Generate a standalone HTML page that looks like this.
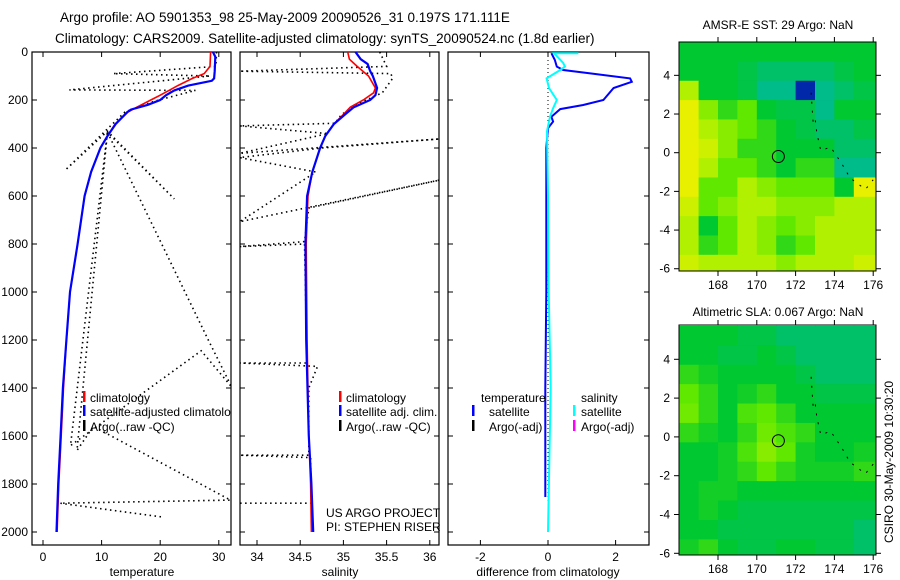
<!DOCTYPE html>
<html><head><meta charset="utf-8"><style>
body{margin:0;background:#fff;}
svg{display:block;font-family:"Liberation Sans",sans-serif;}
</style></head><body>
<svg id="fig" width="900" height="580" viewBox="0 0 900 580" xmlns="http://www.w3.org/2000/svg">
<rect width="900" height="580" fill="#fff"/>
<text x="60" y="22" font-size="13.5">Argo profile: AO 5901353_98 25-May-2009 20090526_31 0.197S 171.111E</text>
<text x="55" y="43" font-size="13.5">Climatology: CARS2009. Satellite-adjusted climatology: synTS_20090524.nc (1.8d earlier)</text>
<text x="778" y="29" font-size="12" text-anchor="middle">AMSR-E SST: 29 Argo: NaN</text>
<text x="778" y="316" font-size="12" text-anchor="middle">Altimetric SLA: 0.067 Argo: NaN</text>
<text transform="translate(893,462) rotate(-90)" font-size="12" text-anchor="middle">CSIRO 30-May-2009 10:30:20</text>
<g id="plots"></g>
</svg>
<script>
// ---------- data ----------
const depthTicks=[0,200,400,600,800,1000,1200,1400,1600,1800,2000];
const tempTicks=[0,10,20,30];
const salTicks=[34,34.5,35,35.5,36];
const salTickLabels=["34","34.5","35","35.5","36"];
const diffTicks=[-2,0,2];
const latTicks=[4,2,0,-2,-4,-6];
const lonTicks=[168,170,172,174,176];

const tClimDepth=[0,60,90,110,140,160,180,200,230,250,300,350,400,500,600,800,1000,1200,1400,1600,1800,2000];
const tClimVal=[28.6,28.5,27.5,25.5,23,21.5,20,18.4,16,14.5,12.3,11,9.8,8.2,7.1,5.9,4.6,4.0,3.5,3.1,2.7,2.4];
const tSatDepth=[0,20,80,110,120,140,160,180,200,220,240,250,300,350,400,500,600,800,1000,1200,1400,1600,1800,2000];
const tSatVal=[29.0,29.4,29.3,29.2,28.8,24.8,22.4,21,20,17.9,15,14.4,12.4,11,9.8,8.2,7.1,5.9,4.6,4.0,3.4,3.0,2.6,2.3];
const tArgoDepth=[0,60,90,100,158,160,205,250,320,492,330,612,335,1200,1396,1245,1640,330,1660,1560,1867,1880,1937];
const tArgoVal=[29.6,29.5,12,28.5,4.5,26,19,14,11,3.8,11,22.4,11,28.2,32.2,27,4.7,11,5.8,8.6,32,2.9,20.2];

const sClimDepth=[0,30,60,100,150,170,200,230,260,300,350,400,500,600,800,1200,1600,1800,2000];
const sClimVal=[35.05,35.07,35.16,35.29,35.37,35.35,35.23,35.08,35.0,34.89,34.79,34.73,34.64,34.59,34.57,34.58,34.6,34.62,34.63];
const sSatDepth=[0,30,50,80,100,150,180,200,230,260,300,350,400,500,600,800,1200,1600,1800,2000];
const sSatVal=[35.14,35.2,35.28,35.31,35.34,35.39,35.37,35.31,35.12,35.02,34.89,34.79,34.73,34.64,34.58,34.56,34.57,34.6,34.63,34.65];
const sArgoDepth=[0,60,80,90,110,170,210,260,297,308,340,422,360,400,440,500,707,527,650,790,811,800,1296,1296,1310,1400,1680,1680,1690,1880,1880];
const sArgoVal=[35.42,35.5,33.8,35.55,35.57,35.45,35.2,34.98,34.9,33.8,34.82,33.8,36.2,34.75,33.8,34.68,33.8,36.2,34.6,34.55,33.8,34.55,34.58,33.8,34.7,34.6,34.6,33.8,34.62,34.63,33.8];

const dTempDepth=[5,33,61,75,89,110,124,150,200,221,238,270,290,317,400,600,1000,1400,1854];
const dTempVal=[0.1,0.2,0.26,0.45,1.25,2.43,2.48,1.94,1.64,1.04,0.36,0.1,0.15,0.0,-0.05,-0.05,-0.05,-0.08,-0.08];
const dSalDepth=[5,5,46,61,75,110,150,200,234,270,330,600,1000,1400,2000];
const dSalVal=[0.9,0.18,0.45,0.5,0.36,-0.04,0.03,0.26,0.15,0.06,-0.03,0.0,0.02,0.08,0.0];

const sstGrid=[
[0.5,0.5,0.5,0.5,0.5,0.5,0.5,0.5,0.5,0.5],
[0.5,0.5,0.5,0.48,0.45,0.45,0.45,0.45,0.48,0.5],
[0.7,0.5,0.5,0.48,0.42,0.42,0.25,0.42,0.45,0.48],
[0.8,0.65,0.55,0.6,0.5,0.48,0.48,0.42,0.5,0.5],
[0.8,0.7,0.65,0.6,0.55,0.5,0.48,0.45,0.45,0.48],
[0.8,0.75,0.65,0.55,0.55,0.5,0.5,0.5,0.45,0.45],
[0.8,0.7,0.6,0.6,0.55,0.5,0.55,0.55,0.42,0.42],
[0.8,0.6,0.6,0.7,0.65,0.6,0.6,0.6,0.5,0.8],
[0.75,0.6,0.65,0.7,0.7,0.65,0.65,0.65,0.7,0.7],
[0.7,0.5,0.6,0.7,0.65,0.6,0.65,0.7,0.7,0.7],
[0.7,0.55,0.6,0.7,0.65,0.55,0.6,0.7,0.7,0.7],
[0.75,0.7,0.7,0.7,0.7,0.65,0.7,0.7,0.7,0.75]];
const slaGrid=[
[0.5,0.5,0.5,0.48,0.48,0.45,0.45,0.45,0.45,0.45],
[0.5,0.5,0.48,0.48,0.5,0.48,0.45,0.45,0.45,0.45],
[0.55,0.52,0.5,0.5,0.5,0.5,0.48,0.45,0.45,0.45],
[0.6,0.55,0.5,0.52,0.55,0.5,0.5,0.48,0.48,0.48],
[0.62,0.55,0.5,0.58,0.6,0.55,0.5,0.5,0.5,0.5],
[0.55,0.52,0.5,0.55,0.62,0.58,0.55,0.5,0.5,0.5],
[0.5,0.5,0.52,0.58,0.65,0.6,0.52,0.5,0.5,0.52],
[0.5,0.5,0.52,0.55,0.6,0.55,0.52,0.52,0.52,0.55],
[0.5,0.52,0.52,0.5,0.5,0.5,0.5,0.5,0.5,0.5],
[0.5,0.52,0.5,0.48,0.48,0.48,0.48,0.48,0.48,0.48],
[0.5,0.5,0.48,0.48,0.48,0.48,0.48,0.48,0.48,0.45],
[0.52,0.55,0.5,0.48,0.48,0.5,0.5,0.48,0.48,0.45]];
const gridLon0=166, gridLat0=5.72;
const argoLon=171.111, argoLat=-0.197;
const coastLon=[172.8,172.9,173.0,173.1,173.3,173.8,174.4,174.8,175.6,176.0];
const coastLat=[3.1,1.6,1.8,1.0,0.1,0.3,-0.6,-1.3,-1.9,-1.4];

// ---------- helpers ----------
const NS="http://www.w3.org/2000/svg";
const root=document.getElementById('plots');
function mk(tag,attrs,parent){const e=document.createElementNS(NS,tag);for(const k in attrs)e.setAttribute(k,attrs[k]);(parent||root).appendChild(e);return e;}
const depthY=d=>52+d*0.24;
const tX=t=>43+t*5.86;
const sX=s=>257+(s-34)*86.4;
const dX=v=>548+v*33.8;
const lonX=l=>718+(l-168)*19.4;
const lat1Y=l=>152.7-l*19.34;
const lat2Y=l=>436.9-l*19.4;

function panel(name,x0,x1,clipId){
  const g=mk('g',{});
  
  
  const cp=mk('clipPath',{id:clipId},g);
  mk('rect',{x:x0,y:52,width:x1-x0,height:493},cp);
  const fr=mk('rect',{x:x0,y:52,width:x1-x0,height:493,fill:'none',stroke:'#000','stroke-width':1.2},g);
  
  
  depthTicks.forEach(d=>{
    mk('line',{x1:x0,x2:x0+5,y1:depthY(d),y2:depthY(d),stroke:'#000'},g);
    mk('line',{x1:x1-5,x2:x1,y1:depthY(d),y2:depthY(d),stroke:'#000'},g);
  });
  return g;
}
function xTicks(g,vals,labels,fx){
  vals.forEach((v,i)=>{
    const x=fx(v);
    mk('line',{x1:x,x2:x,y1:545,y2:540,stroke:'#000'},g);
    mk('line',{x1:x,x2:x,y1:52,y2:57,stroke:'#000'},g);
    const t=mk('text',{x:x,y:561,'font-size':12,'text-anchor':'middle'},g);
    t.textContent=labels[i];
    
    
  });
}
function line(g,ds,vs,fx,attrs,name,clip){
  const pts=ds.map((d,i)=>fx(vs[i]).toFixed(1)+','+depthY(d).toFixed(1)).join(' ');
  const p=mk('polyline',Object.assign({points:pts,fill:'none','clip-path':'url(#'+clip+')'},attrs),g);
  
  
}
function txt(g,x,y,s,name,extra){
  const t=mk('text',Object.assign({x:x,y:y,'font-size':12},extra||{}),g);
  t.textContent=s;
  
  
  return t;
}
function bar(g,x,y,c,name){
  const r=mk('rect',{x:x,y:y-7,width:2.5,height:11,fill:c},g);
  
  
}
const dotted={stroke:'#000','stroke-width':1.6,'stroke-dasharray':'1.5 3.5'};

// ---------- temperature panel ----------
const gT=panel('temperature-panel',32,231,'clipT');
depthTicks.forEach(d=>{txt(gT,28,depthY(d)+4,String(d),'y-tick-label',{'text-anchor':'end'});});
xTicks(gT,tempTicks,tempTicks.map(String),tX);
txt(gT,142,576,'temperature','x-axis-title-temperature',{'text-anchor':'middle'});
line(gT,tArgoDepth,tArgoVal,tX,dotted,'temperature-argo-raw-line','clipT');
line(gT,tClimDepth,tClimVal,tX,{stroke:'#f00','stroke-width':1.6},'temperature-climatology-line','clipT');
line(gT,tSatDepth,tSatVal,tX,{stroke:'#00f','stroke-width':2.2},'temperature-satellite-line','clipT');
const gTL=mk('g',{'clip-path':'url(#clipT)'},gT);


bar(gTL,83,398,'#f00','legend-marker-climatology');
txt(gTL,90,402,'climatology','legend-entry-climatology');
bar(gTL,83,412,'#00f','legend-marker-satellite');
txt(gTL,90,416,'satellite-adjusted climatology','legend-entry-satellite-adjusted');
bar(gTL,83,427,'#000','legend-marker-argo');
txt(gTL,90,431,'Argo(..raw -QC)','legend-entry-argo');

// ---------- salinity panel ----------
const gS=panel('salinity-panel',240,439,'clipS');
xTicks(gS,salTicks,salTickLabels,sX);
txt(gS,340,576,'salinity','x-axis-title-salinity',{'text-anchor':'middle'});
line(gS,sArgoDepth,sArgoVal,sX,dotted,'salinity-argo-raw-line','clipS');
line(gS,sClimDepth,sClimVal,sX,{stroke:'#f00','stroke-width':1.6},'salinity-climatology-line','clipS');
line(gS,sSatDepth,sSatVal,sX,{stroke:'#00f','stroke-width':2.2},'salinity-satellite-line','clipS');
bar(gS,339,398,'#f00','legend-marker-climatology');
txt(gS,346,402,'climatology','legend-entry-climatology');
bar(gS,339,412,'#00f','legend-marker-satellite');
txt(gS,346,416,'satellite adj. clim.','legend-entry-satellite');
bar(gS,339,427,'#000','legend-marker-argo');
txt(gS,346,431,'Argo(..raw -QC)','legend-entry-argo');
txt(gS,326,517,'US ARGO PROJECT','project-credit');
txt(gS,326,531,'PI: STEPHEN RISER','pi-credit');

// ---------- difference panel ----------
const gD=panel('difference-panel',448,649,'clipD');
xTicks(gD,diffTicks,diffTicks.map(String),dX);
txt(gD,548,576,'difference from climatology','x-axis-title-difference',{'text-anchor':'middle'});
const zl=mk('line',{x1:dX(0),x2:dX(0),y1:52,y2:depthY(2000),stroke:'#000','stroke-dasharray':'1 3'},gD);


line(gD,dTempDepth,dTempVal,dX,{stroke:'#00f','stroke-width':2},'temperature-difference-line','clipD');
line(gD,dSalDepth,dSalVal,dX,{stroke:'#0ff','stroke-width':2},'salinity-difference-line','clipD');
txt(gD,481,402,'temperature','legend-title-temperature');
bar(gD,472,412,'#00f','legend-marker-temp-satellite');
txt(gD,489,416,'satellite','legend-entry-temp-satellite');
bar(gD,472,427,'#000','legend-marker-temp-argo');
txt(gD,489,431,'Argo(-adj)','legend-entry-temp-argo');
txt(gD,581,402,'salinity','legend-title-salinity');
bar(gD,573,412,'#0ff','legend-marker-sal-satellite');
txt(gD,581,416,'satellite','legend-entry-sal-satellite');
bar(gD,573,427,'#f0f','legend-marker-sal-argo');
txt(gD,581,431,'Argo(-adj)','legend-entry-sal-argo');

// ---------- maps ----------
const cstops=[[0.2,[0,0,128]],[0.3,[0,80,208]],[0.4,[0,184,160]],[0.5,[0,200,48]],[0.6,[96,232,0]],[0.7,[176,240,0]],[0.8,[232,240,0]],[0.9,[240,160,0]],[1.0,[192,0,0]]];
function cmap(v){
  if(v<=cstops[0][0])return 'rgb('+cstops[0][1]+')';
  for(let i=1;i<cstops.length;i++){
    if(v<=cstops[i][0]){const a=cstops[i-1],b=cstops[i];const f=(v-a[0])/(b[0]-a[0]);
      return 'rgb('+a[1].map((c,k)=>Math.round(c+(b[1][k]-c)*f)).join(',')+')';}
  }
  return 'rgb('+cstops[cstops.length-1][1]+')';
}
function map(name,grid,latY,top,bottom){
  const g=mk('g',{});
  
  
  const cid=name+'-clip';
  const cp=mk('clipPath',{id:cid},g);
  mk('rect',{x:679,y:top,width:197,height:bottom-top},cp);
  const cells=mk('g',{'clip-path':'url(#'+cid+')'},g);
  grid.forEach((row,r)=>row.forEach((v,c)=>{
    const x=lonX(gridLon0+c), y=latY(gridLat0-r);
    const w=(c===row.length-1)?30:lonX(gridLon0+c+1)-x+0.5;
    const h=(r===grid.length-1)?30:latY(gridLat0-r-1)-y+0.5;
    const rc=mk('rect',{x:x,y:y,width:w,height:h,fill:cmap(v)},cells);
    
    
  }));
  const cpts=coastLon.map((l,i)=>lonX(l).toFixed(1)+','+latY(coastLat[i]).toFixed(1)).join(' ');
  const cl=mk('polyline',{points:cpts,fill:'none',stroke:'#000','stroke-width':1,'stroke-dasharray':'2 7'},cells);
  
  
  const ci=mk('circle',{cx:lonX(argoLon),cy:latY(argoLat),r:6,fill:'none',stroke:'#000','stroke-width':1},g);
  
  
  mk('rect',{x:679,y:top,width:197,height:bottom-top,fill:'none',stroke:'#000','stroke-width':1},g);
  latTicks.forEach(l=>{
    const y=latY(l);
    mk('line',{x1:876,x2:881,y1:y,y2:y,stroke:'#000'},g);
    mk('line',{x1:674,x2:679,y1:y,y2:y,stroke:'#000'},g);
    txt(g,670,y+4,String(l),'lat-tick-label',{'text-anchor':'end'});
  });
  lonTicks.forEach(l=>{
    const x=lonX(l);
    mk('line',{x1:x,x2:x,y1:bottom,y2:bottom+5,stroke:'#000'},g);
    mk('line',{x1:x,x2:x,y1:top-5,y2:top,stroke:'#000'},g);
    txt(g,x,bottom+18,String(l),'lon-tick-label',{'text-anchor':'middle'});
  });
}
map('sst-map',sstGrid,lat1Y,42,271);
map('sla-map',slaGrid,lat2Y,325,555);
</script>
</body></html>
